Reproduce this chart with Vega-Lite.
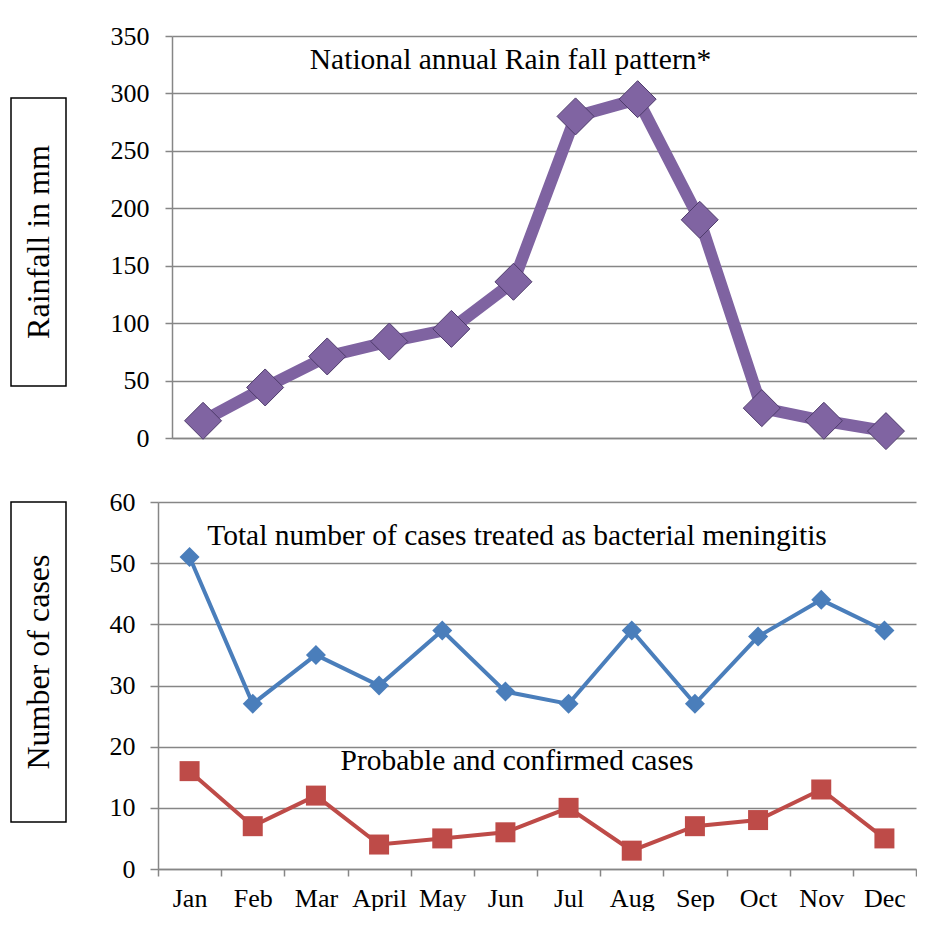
{
  "$schema": "https://vega.github.io/schema/vega-lite/v6.json",
  "padding": {"left": 10, "top": 23, "right": 0, "bottom": 0},
  "background": "white",
  "config": {
    "font": "Liberation Serif",
    "view": {"stroke": null},
    "axis": {
      "labelFont": "Liberation Serif",
      "labelFontSize": 26,
      "labelColor": "black",
      "gridColor": "#868686",
      "gridWidth": 1.5,
      "domainColor": "#868686",
      "domainWidth": 1.5,
      "tickColor": "#868686",
      "tickWidth": 1.5,
      "tickSize": 7,
      "title": null
    },
    "title": {
      "font": "Liberation Serif",
      "fontSize": 29.5,
      "fontWeight": "normal",
      "color": "black",
      "subtitleFont": "Liberation Serif",
      "subtitleFontSize": 29.5,
      "subtitleColor": "black",
      "frame": "group",
      "anchor": "middle"
    }
  },
  "datasets": {
    "rain": [
      {"month": "Jan", "rainfall": 15},
      {"month": "Feb", "rainfall": 44},
      {"month": "Mar", "rainfall": 71},
      {"month": "April", "rainfall": 84},
      {"month": "May", "rainfall": 95},
      {"month": "Jun", "rainfall": 136},
      {"month": "Jul", "rainfall": 280},
      {"month": "Aug", "rainfall": 295},
      {"month": "Sep", "rainfall": 190},
      {"month": "Oct", "rainfall": 26},
      {"month": "Nov", "rainfall": 15},
      {"month": "Dec", "rainfall": 6}
    ],
    "cases": [
      {"month": "Jan", "total": 51, "confirmed": 16},
      {"month": "Feb", "total": 27, "confirmed": 7},
      {"month": "Mar", "total": 35, "confirmed": 12},
      {"month": "April", "total": 30, "confirmed": 4},
      {"month": "May", "total": 39, "confirmed": 5},
      {"month": "Jun", "total": 29, "confirmed": 6},
      {"month": "Jul", "total": 27, "confirmed": 10},
      {"month": "Aug", "total": 39, "confirmed": 3},
      {"month": "Sep", "total": 27, "confirmed": 7},
      {"month": "Oct", "total": 38, "confirmed": 8},
      {"month": "Nov", "total": 44, "confirmed": 13},
      {"month": "Dec", "total": 39, "confirmed": 5}
    ]
  },
  "spacing": 33,
  "vconcat": [
    {
      "spacing": 10,
      "hconcat": [
        {
          "spacing": 0,
          "vconcat": [
            {
              "width": 55, "height": 61,
              "data": {"values": [{"label": ""}]},
              "mark": {"type": "text"},
              "encoding": {"text": {"field": "label"}}
            },
            {
              "width": 55, "height": 288,
              "view": {"stroke": "black", "strokeWidth": 1.5},
              "data": {"values": [{"label": "Rainfall in mm"}]},
              "mark": {"type": "text", "angle": 270, "fontSize": 32, "font": "Liberation Serif", "align": "center", "baseline": "middle", "color": "black"},
              "encoding": {"text": {"field": "label"}}
            }
          ]
        },
        {
          "width": 745, "height": 402,
          "data": {"name": "rain"},
          "title": {"text": "National annual Rain fall pattern*", "dx": -34, "offset": -52},
          "encoding": {
            "x": {
              "field": "month", "type": "nominal", "sort": null,
              "scale": {"type": "band", "paddingInner": 0, "paddingOuter": 0},
              "axis": {"labels": false, "ticks": false, "domain": true, "grid": false}
            },
            "y": {
              "field": "rainfall", "type": "quantitative",
              "scale": {"domain": [0, 350], "nice": false},
              "axis": {"values": [0, 50, 100, 150, 200, 250, 300, 350], "labelPadding": 16, "minExtent": 95, "maxExtent": 95}
            }
          },
          "layer": [
            {"mark": {"type": "line", "color": "#7F63A1", "strokeWidth": 12}},
            {"mark": {"type": "point", "shape": "diamond", "size": 1369, "filled": true, "fill": "#8064A2", "stroke": "#4E3B6B", "strokeWidth": 1, "opacity": 1}}
          ]
        }
      ]
    },
    {
      "spacing": 10,
      "hconcat": [
        {
          "width": 55, "height": 320,
          "view": {"stroke": "black", "strokeWidth": 1.5},
          "data": {"values": [{"label": "Number of cases"}]},
          "mark": {"type": "text", "angle": 270, "fontSize": 32, "font": "Liberation Serif", "align": "center", "baseline": "middle", "color": "black"},
          "encoding": {"text": {"field": "label"}}
        },
        {
          "width": 758, "height": 367,
          "data": {"name": "cases"},
          "title": {
            "text": "Total number of cases treated as bacterial meningitis",
            "subtitle": "Probable and confirmed cases",
            "subtitlePadding": 195,
            "dx": -20,
            "offset": -287
          },
          "encoding": {
            "x": {
              "field": "month", "type": "nominal", "sort": null,
              "scale": {"type": "band", "paddingInner": 0, "paddingOuter": 0},
              "axis": {"labelAngle": 0, "labelPadding": 9, "tickBand": "extent", "grid": false}
            }
          },
          "layer": [
            {
              "mark": {"type": "line", "color": "#4A7EBB", "strokeWidth": 4},
              "encoding": {
                "y": {
                  "field": "total", "type": "quantitative",
                  "scale": {"domain": [0, 60], "nice": false},
                  "axis": {"values": [0, 10, 20, 30, 40, 50, 60], "labelPadding": 15, "tickSize": 8, "minExtent": 81, "maxExtent": 81}
                }
              }
            },
            {
              "mark": {"type": "point", "shape": "diamond", "size": 400, "filled": true, "color": "#4A7EBB", "opacity": 1},
              "encoding": {"y": {"field": "total", "type": "quantitative"}}
            },
            {
              "mark": {"type": "line", "color": "#BE4B48", "strokeWidth": 4},
              "encoding": {"y": {"field": "confirmed", "type": "quantitative"}}
            },
            {
              "mark": {"type": "point", "shape": "square", "size": 400, "filled": true, "color": "#BE4B48", "opacity": 1},
              "encoding": {"y": {"field": "confirmed", "type": "quantitative"}}
            }
          ]
        }
      ]
    }
  ]
}
